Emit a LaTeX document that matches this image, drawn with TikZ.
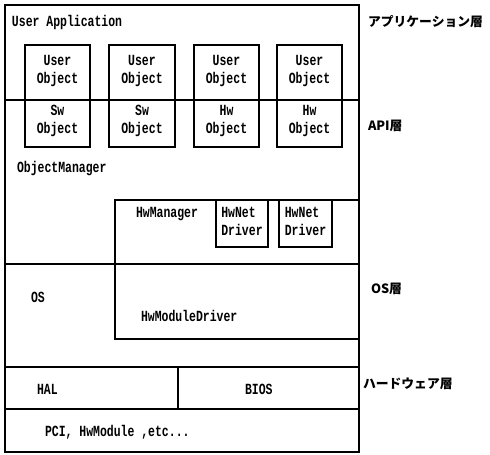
\documentclass[tikz,border=0pt]{standalone}
\usepackage{fontspec}
\newfontfamily\lat{Liberation Mono}[FakeStretch=0.74]
\newfontfamily\jp{Noto Sans CJK JP}
\tikzset{
  every node/.style={inner sep=0pt, outer sep=0pt},
  frame/.style={draw, line width=1.4pt},
  box/.style={draw, line width=1.4pt, anchor=north west},
  lbl/.style={font=\lat\bfseries\fontsize{15.5}{18}\selectfont, align=center},
  jlbl/.style={font=\jp\bfseries\fontsize{12.8}{14}\selectfont, anchor=west},
}
\begin{document}
\begin{tikzpicture}[x=1pt,y=-1pt]
\useasboundingbox (0,0) rectangle (490,455);
% outer frame
\node[box, minimum width=354pt, minimum height=447pt] (outer) at (5,5) {};
% layer lines
\coordinate (l1a) at (5,100); \coordinate (l1b) at (359,100);
\coordinate (l2a) at (5,264); \coordinate (l2b) at (359,264);
\coordinate (l3a) at (5,367); \coordinate (l3b) at (359,367);
\coordinate (l4a) at (5,409); \coordinate (l4b) at (359,409);
\coordinate (vda) at (178,367); \coordinate (vdb) at (178,409);
\draw[frame] (l1a) -- (l1b);
\draw[frame] (l2a) -- (l2b);
\draw[frame] (l3a) -- (l3b);
\draw[frame] (l4a) -- (l4b);
\draw[frame] (vda) -- (vdb);
% object boxes
\node[box, minimum width=65pt, minimum height=102pt] (o1) at (25,45) {};
\node[box, minimum width=66pt, minimum height=102pt] (o2) at (109,45) {};
\node[box, minimum width=65pt, minimum height=102pt] (o3) at (194,45) {};
\node[box, minimum width=65pt, minimum height=102pt] (o4) at (277,45) {};
% manager / driver boxes
\node[box, minimum width=244pt, minimum height=64pt] (hwm) at (115,200) {};
\node[box, minimum width=52pt, minimum height=47pt] (net1) at (216,200) {};
\node[box, minimum width=53pt, minimum height=47pt] (net2) at (279,200) {};
\node[box, minimum width=244pt, minimum height=75pt] (hmd) at (115,264) {};
% texts
\node[lbl, anchor=west] (ua) at (12,22) {User Application};
\node[lbl] (t1a) at (57.5,71) {User\\Object};
\node[lbl] (t2a) at (142,71) {User\\Object};
\node[lbl] (t3a) at (226.5,71) {User\\Object};
\node[lbl] (t4a) at (309.5,71) {User\\Object};
\node[lbl] (t1b) at (57.5,121) {Sw\\Object};
\node[lbl] (t2b) at (142,121) {Sw\\Object};
\node[lbl] (t3b) at (226.5,121) {Hw\\Object};
\node[lbl] (t4b) at (309.5,121) {Hw\\Object};
\node[lbl, anchor=west] (om) at (17,169) {ObjectManager};
\node[lbl, anchor=west] (hwmt) at (136,214) {HwManager};
\node[lbl, align=left] (n1t) at (242,221) {HwNet\\Driver};
\node[lbl, align=left] (n2t) at (305.5,221) {HwNet\\Driver};
\node[lbl, anchor=west] (ost) at (31,297) {OS};
\node[lbl, anchor=west] (hmdt) at (141,316) {HwModuleDriver};
\node[lbl, anchor=west] (halt) at (37,389) {HAL};
\node[lbl, anchor=west] (biost) at (245,389) {BIOS};
\node[lbl, anchor=west] (pcit) at (45,432) {PCI, HwModule ,etc...};
% layer names
\node[jlbl] (j1) at (368,22) {アプリケーション層};
\node[jlbl] (j2) at (368,126) {API層};
\node[jlbl] (j3) at (371,289) {OS層};
\node[jlbl] (j4) at (363,384) {ハードウェア層};
\end{tikzpicture}
\end{document}
